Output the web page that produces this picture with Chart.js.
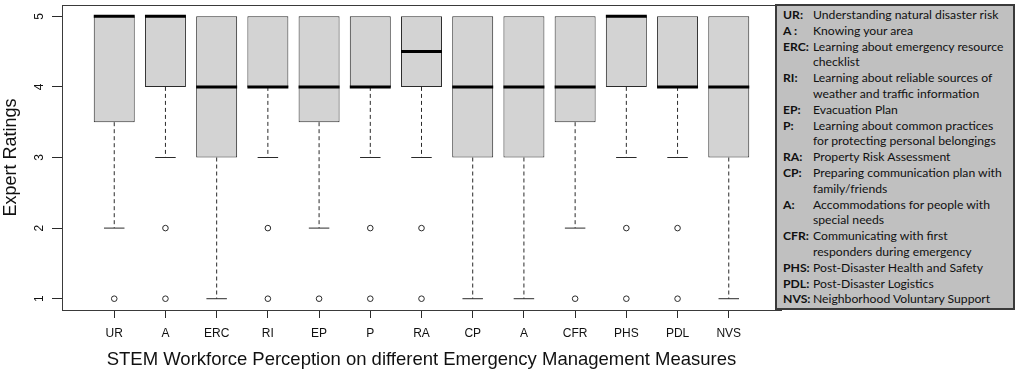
<!DOCTYPE html>
<html>
<head>
<meta charset="utf-8">
<script src="https://cdn.jsdelivr.net/npm/chart.js@4.4.0/dist/chart.umd.min.js"></script>
<style>
  body { margin: 0; background: #fff; }
  #wrap { position: relative; width: 1017px; height: 372px; }
  #key {
    position: absolute; left: 775px; top: 4px; width: 240px; height: 306px;
    box-sizing: border-box; background: #c0c0c0; border: 2px solid #3a3a3a;
    font-family: Lato, "Open Sans", sans-serif; font-size: 12.2px; color: #111;
    padding-top: 1px;
  }
  .row { position: relative; height: 15.8px; line-height: 15.8px; white-space: nowrap; }
  .ab { position: absolute; left: 6px; font-weight: bold; }
  .tx { position: absolute; left: 36px; }
</style>
</head>
<body>
<div id="wrap">
  <canvas id="chart" width="1017" height="372"></canvas>
  <div id="key"></div>
</div>
<script>
// Категорії та статистика боксплотів
const categories = ['UR', 'A', 'ERC', 'RI', 'EP', 'P', 'RA', 'CP', 'A', 'CFR', 'PHS', 'PDL', 'NVS'];
const q1 = [3.5, 4, 3, 4, 3.5, 4, 4, 3, 3, 3.5, 4, 4, 3];
const q3 = [5, 5, 5, 5, 5, 5, 5, 5, 5, 5, 5, 5, 5];
const medians = [5, 5, 4, 4, 4, 4, 4.5, 4, 4, 4, 5, 4, 4];
const whiskerLow = [2, 3, 1, 3, 2, 3, 3, 1, 1, 2, 3, 3, 1];
const whiskerHigh = [5, 5, 5, 5, 5, 5, 5, 5, 5, 5, 5, 5, 5];
const outliers = [[1], [2, 1], [], [2, 1], [1], [2, 1], [2, 1], [], [], [1], [2, 1], [2, 1], []];
const yTicks = [1, 2, 3, 4, 5];

// Легенда справа
const keyLines = [
  ['UR:', 'Understanding natural disaster risk'],
  ['A :', 'Knowing your area'],
  ['ERC:', 'Learning about emergency resource'],
  ['', 'checklist'],
  ['RI:', 'Learning about reliable sources of'],
  ['', 'weather and traffic information'],
  ['EP:', 'Evacuation Plan'],
  ['P:', 'Learning about common practices'],
  ['', 'for protecting personal belongings'],
  ['RA:', 'Property Risk Assessment'],
  ['CP:', 'Preparing communication plan with'],
  ['', 'family/friends'],
  ['A:', 'Accommodations for people with'],
  ['', 'special needs'],
  ['CFR:', 'Communicating with first'],
  ['', 'responders during emergency'],
  ['PHS:', 'Post-Disaster Health and Safety'],
  ['PDL:', 'Post-Disaster Logistics'],
  ['NVS:', 'Neighborhood Voluntary Support']
];

function buildKey() {
  const key = document.getElementById('key');
  keyLines.forEach(([ab, tx]) => {
    const row = document.createElement('div');
    row.className = 'row';
    const a = document.createElement('span');
    a.className = 'ab';
    a.textContent = ab;
    const t = document.createElement('span');
    t.className = 'tx';
    t.textContent = tx;
    row.appendChild(a);
    row.appendChild(t);
    key.appendChild(row);
  });
}

// Сегменти ліній (null розриває лінію)
function segments(fn) {
  const out = [];
  categories.forEach((_, i) => {
    const seg = fn(i);
    if (seg) out.push(...seg, { x: i, y: null });
  });
  return out;
}

const lineColor = '#2a2a2a';

const framePlugin = {
  id: 'frame',
  afterDraw(chart) {
    const { ctx, chartArea: a, scales } = chart;
    ctx.save();
    ctx.strokeStyle = '#3a3a3a';
    ctx.lineWidth = 1;
    ctx.strokeRect(a.left + 0.5, a.top + 0.5, a.right - a.left, a.bottom - a.top);

    ctx.fillStyle = '#111';
    ctx.font = '12px "Liberation Sans", Arial, sans-serif';
    ctx.textAlign = 'center';
    ctx.textBaseline = 'middle';
    yTicks.forEach(v => {
      ctx.save();
      ctx.translate(40, scales.y.getPixelForValue(v));
      ctx.rotate(-Math.PI / 2);
      ctx.fillText(String(v), 0, 0);
      ctx.restore();
    });

    ctx.font = '18.5px "Liberation Sans", Arial, sans-serif';
    ctx.fillText('STEM Workforce Perception on different Emergency Management Measures',
      (a.left + a.right) / 2, 360);
    ctx.font = '18px "Liberation Sans", Arial, sans-serif';
    ctx.save();
    ctx.translate(11, (a.top + a.bottom) / 2);
    ctx.rotate(-Math.PI / 2);
    ctx.fillText('Expert Ratings', 0, 0);
    ctx.restore();
    ctx.restore();
  }
};

function initChart() {
  const ctx = document.getElementById('chart').getContext('2d');

  const datasets = [
    {
      type: 'scatter',
      data: outliers.flatMap((arr, i) => arr.map(v => ({ x: i, y: v }))),
      pointRadius: 2.8,
      pointBorderWidth: 1,
      pointBackgroundColor: '#fff',
      pointBorderColor: lineColor,
      order: 0
    },
    {
      type: 'line',
      data: segments(i => [{ x: i - 0.4, y: medians[i] }, { x: i + 0.4, y: medians[i] }]),
      borderColor: '#000',
      borderWidth: 3,
      borderCapStyle: 'butt',
      pointRadius: 0,
      spanGaps: false,
      order: 1
    },
    {
      type: 'line',
      data: segments(i => [{ x: i - 0.2, y: whiskerLow[i] }, { x: i + 0.2, y: whiskerLow[i] }]),
      borderColor: lineColor,
      borderWidth: 1,
      pointRadius: 0,
      spanGaps: false,
      order: 2
    },
    {
      type: 'line',
      data: segments(i => (whiskerLow[i] < q1[i] ? [{ x: i, y: q1[i] }, { x: i, y: whiskerLow[i] }] : null))
        .concat(segments(i => (whiskerHigh[i] > q3[i] ? [{ x: i, y: q3[i] }, { x: i, y: whiskerHigh[i] }] : null))),
      borderColor: lineColor,
      borderWidth: 1,
      borderDash: [4, 3],
      pointRadius: 0,
      spanGaps: false,
      order: 3
    },
    {
      type: 'bar',
      data: categories.map((_, i) => ({ x: i, y: [q1[i], q3[i]] })),
      backgroundColor: '#d3d3d3',
      borderColor: lineColor,
      borderWidth: 1,
      borderSkipped: false,
      barPercentage: 0.8,
      categoryPercentage: 1,
      order: 4
    }
  ];

  new Chart(ctx, {
    type: 'bar',
    data: { datasets },
    options: {
      responsive: false,
      animation: false,
      layout: { padding: { top: 4, right: 236, left: 0, bottom: 0 } },
      plugins: { legend: { display: false }, tooltip: { enabled: false } },
      scales: {
        x: {
          type: 'linear',
          offset: false,
          min: -1.02,
          max: 13.02,
          afterBuildTicks: axis => { axis.ticks = categories.map((_, i) => ({ value: i })); },
          afterFit: axis => { axis.height = 62; },
          grid: { offset: false, drawOnChartArea: false, tickLength: 8, tickColor: lineColor },
          border: { display: false },
          ticks: {
            autoSkip: false,
            maxRotation: 0,
            padding: 8,
            color: '#111',
            font: { family: '"Liberation Sans", Arial, sans-serif', size: 12 },
            callback: v => categories[v]
          }
        },
        y: {
          min: 0.84,
          max: 5.16,
          afterBuildTicks: axis => { axis.ticks = yTicks.map(v => ({ value: v })); },
          afterFit: axis => { axis.width = 62; },
          grid: { drawOnChartArea: false, tickLength: 10, tickColor: lineColor },
          border: { display: false },
          ticks: { display: false }
        }
      }
    },
    plugins: [framePlugin]
  });
}

document.addEventListener('DOMContentLoaded', () => {
  buildKey();
  initChart();
});
</script>
</body>
</html>
